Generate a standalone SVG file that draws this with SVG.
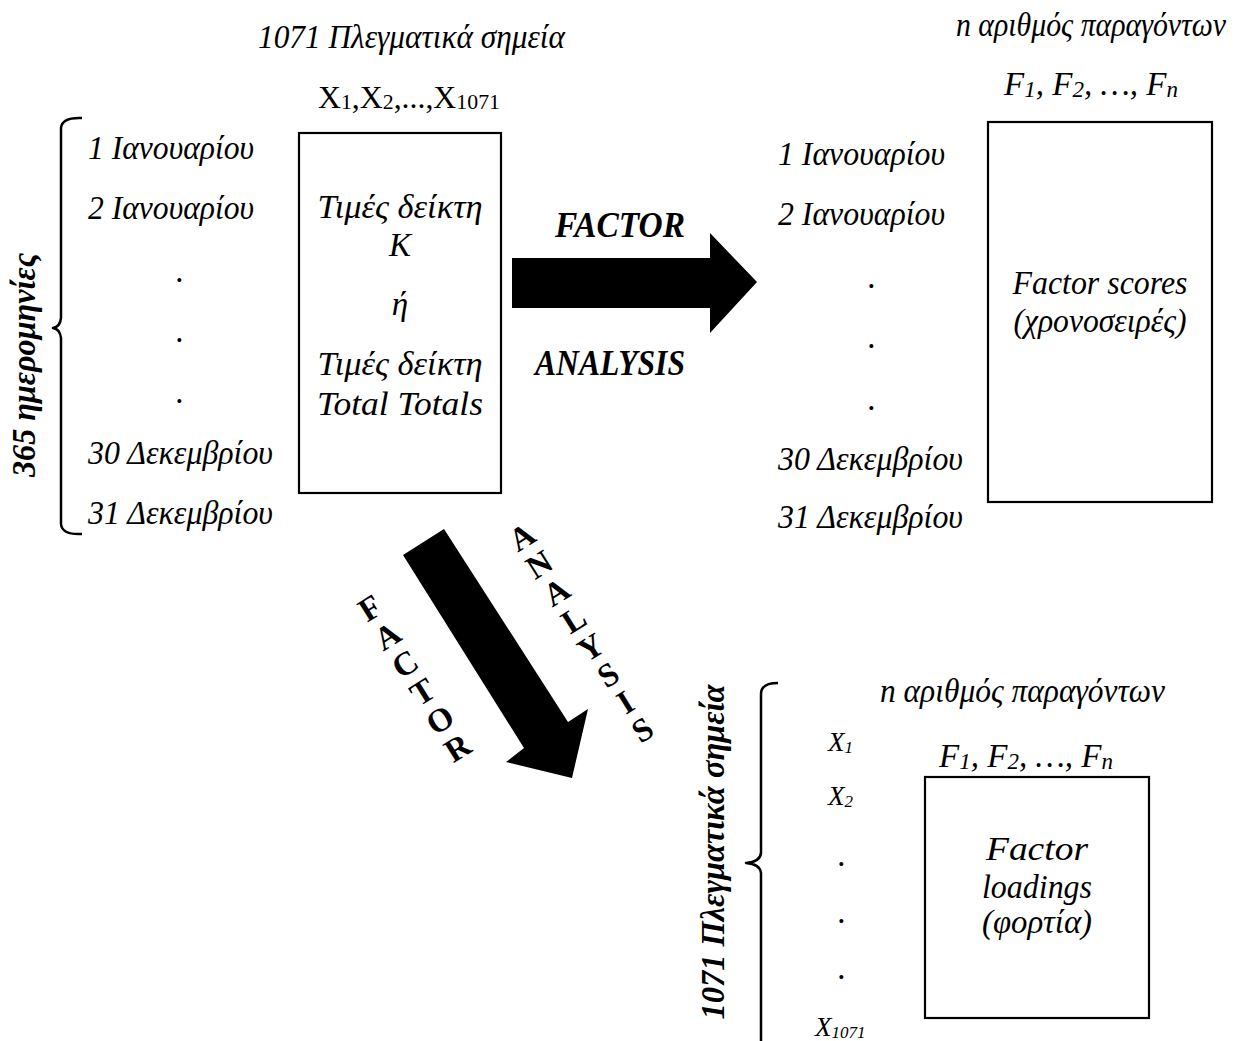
<svg xmlns="http://www.w3.org/2000/svg" width="1244" height="1041" viewBox="0 0 1244 1041">
<style>
text { font-family: "Liberation Serif", "Times New Roman", serif; fill: #000; }
.i { font-size: 33px; font-style: italic; }
.u { font-size: 32px; }
.s { font-size: 27px; font-style: italic; }
.bi { font-size: 35px; font-style: italic; font-weight: bold; }
.vb { font-size: 30px; font-style: italic; font-weight: bold; }
.lt { font-size: 33px; font-weight: bold; }
.m { text-anchor: middle; }
.box { fill: #fff; stroke: #000; stroke-width: 2.2; }
.brace { fill: none; stroke: #000; stroke-width: 2.5; stroke-linejoin: round; }
.arrow { fill: #000; stroke: none; }
</style>
<rect width="1244" height="1041" fill="#fff"/>

<g id="top-labels">
  <text class="i" x="258" y="48" textLength="307" lengthAdjust="spacingAndGlyphs">1071 Πλεγματικά σημεία</text>
  <text class="u" x="318" y="108" textLength="182" lengthAdjust="spacingAndGlyphs">X<tspan font-size="22" dy="1">1</tspan><tspan dy="-1">,X</tspan><tspan font-size="22" dy="1">2</tspan><tspan dy="-1">,...,X</tspan><tspan font-size="22" dy="1">1071</tspan></text>
</g>

<g id="days-left">
  <text class="i" x="88" y="159" textLength="166" lengthAdjust="spacingAndGlyphs">1 Ιανουαρίου</text>
  <text class="i" x="88" y="219" textLength="166" lengthAdjust="spacingAndGlyphs">2 Ιανουαρίου</text>
  <text class="i m" x="180" y="282">.</text>
  <text class="i m" x="180" y="342">.</text>
  <text class="i m" x="180" y="403">.</text>
  <text class="i" x="88" y="464" textLength="185" lengthAdjust="spacingAndGlyphs">30 Δεκεμβρίου</text>
  <text class="i" x="88" y="524" textLength="185" lengthAdjust="spacingAndGlyphs">31 Δεκεμβρίου</text>
  <path class="brace" d="M82,118 Q62,117 61,128 L61,318 Q60,327 53,328 Q60,329 61,338 L61,524 Q62,535 82,534"/>
  <text class="vb m" transform="translate(35,365) scale(1.15,1) rotate(-90)" textLength="224" lengthAdjust="spacingAndGlyphs">365 ημερομηνίες</text>
</g>

<g id="node-input">
  <rect class="box" x="299" y="133" width="202" height="360"/>
  <text class="i m" x="400" y="218" textLength="165" lengthAdjust="spacingAndGlyphs">Τιμές δείκτη</text>
  <text class="i m" x="400" y="256">K</text>
  <text class="i m" x="400" y="315">ή</text>
  <text class="i m" x="400" y="375" textLength="165" lengthAdjust="spacingAndGlyphs">Τιμές δείκτη</text>
  <text class="i m" x="400" y="415" textLength="166" lengthAdjust="spacingAndGlyphs">Total Totals</text>
</g>

<g id="connectors">
  <polygon class="arrow" points="512,258 710,258 710,233 757,282 710,333 710,308 512,308"/>
  <text class="bi" x="555" y="237" textLength="130" lengthAdjust="spacingAndGlyphs">FACTOR</text>
  <text class="bi" x="535" y="375" textLength="150" lengthAdjust="spacingAndGlyphs">ANALYSIS</text>

  <polygon class="arrow" points="403,555 444,529 568,722 588,709 572,778 506,762 524,748"/>
  <g transform="translate(370,608) rotate(-32)">
    <text class="lt m" x="0" y="11">F</text>
    <text class="lt m" x="0" y="44">A</text>
    <text class="lt m" x="0" y="77">C</text>
    <text class="lt m" x="0" y="110">T</text>
    <text class="lt m" x="0" y="143">O</text>
    <text class="lt m" x="0" y="176">R</text>
  </g>
  <g transform="translate(522,537) rotate(-32)">
    <text class="lt m" x="0" y="11">A</text>
    <text class="lt m" x="0" y="43.5">N</text>
    <text class="lt m" x="0" y="76">A</text>
    <text class="lt m" x="0" y="108.5">L</text>
    <text class="lt m" x="0" y="141">Y</text>
    <text class="lt m" x="0" y="173.5">S</text>
    <text class="lt m" x="0" y="206">I</text>
    <text class="lt m" x="0" y="238.5">S</text>
  </g>
</g>

<g id="node-scores">
  <text class="i" x="956" y="36" font-size="30" textLength="270" lengthAdjust="spacingAndGlyphs">n αριθμός παραγόντων</text>
  <text class="i m" x="1091" y="95">F<tspan font-size="23" dy="2">1</tspan><tspan dy="-2">, F</tspan><tspan font-size="23" dy="2">2</tspan><tspan dy="-2">, …, F</tspan><tspan font-size="23" dy="2">n</tspan></text>
  <text class="i" x="778" y="165" textLength="167" lengthAdjust="spacingAndGlyphs">1 Ιανουαρίου</text>
  <text class="i" x="778" y="225" textLength="167" lengthAdjust="spacingAndGlyphs">2 Ιανουαρίου</text>
  <text class="i m" x="872" y="288">.</text>
  <text class="i m" x="872" y="348">.</text>
  <text class="i m" x="872" y="410">.</text>
  <text class="i" x="778" y="470" textLength="185" lengthAdjust="spacingAndGlyphs">30 Δεκεμβρίου</text>
  <text class="i" x="778" y="528" textLength="185" lengthAdjust="spacingAndGlyphs">31 Δεκεμβρίου</text>
  <rect class="box" x="988" y="122" width="224" height="380"/>
  <text class="i m" x="1100" y="294" textLength="175" lengthAdjust="spacingAndGlyphs">Factor scores</text>
  <text class="i m" x="1100" y="332" textLength="173" lengthAdjust="spacingAndGlyphs">(χρονοσειρές)</text>
</g>

<g id="node-loadings">
  <text class="vb m" transform="translate(724,852) scale(1.15,1) rotate(-90)" textLength="335" lengthAdjust="spacingAndGlyphs">1071 Πλεγματικά σημεία</text>
  <path class="brace" d="M778,683 Q761,683 761,694 L761,853 Q760,862 746,863 Q760,864 761,873 L761,1045"/>
  <text class="i" x="880" y="702" textLength="285" lengthAdjust="spacingAndGlyphs">n αριθμός παραγόντων</text>
  <text class="i m" x="1026" y="767">F<tspan font-size="23" dy="2">1</tspan><tspan dy="-2">, F</tspan><tspan font-size="23" dy="2">2</tspan><tspan dy="-2">, …, F</tspan><tspan font-size="23" dy="2">n</tspan></text>
  <text class="s" x="828" y="751">X<tspan font-size="17" dy="2">1</tspan></text>
  <text class="s" x="828" y="805">X<tspan font-size="17" dy="2">2</tspan></text>
  <text class="i m" x="842" y="866">.</text>
  <text class="i m" x="842" y="923">.</text>
  <text class="i m" x="842" y="979">.</text>
  <text class="s" x="815" y="1036">X<tspan font-size="17" dy="2">1071</tspan></text>
  <rect class="box" x="925" y="777" width="224" height="241"/>
  <text class="i m" x="1037" y="860" textLength="102" lengthAdjust="spacingAndGlyphs">Factor</text>
  <text class="i m" x="1037" y="898" textLength="110" lengthAdjust="spacingAndGlyphs">loadings</text>
  <text class="i m" x="1037" y="933" textLength="110" lengthAdjust="spacingAndGlyphs">(φορτία)</text>
</g>
</svg>
